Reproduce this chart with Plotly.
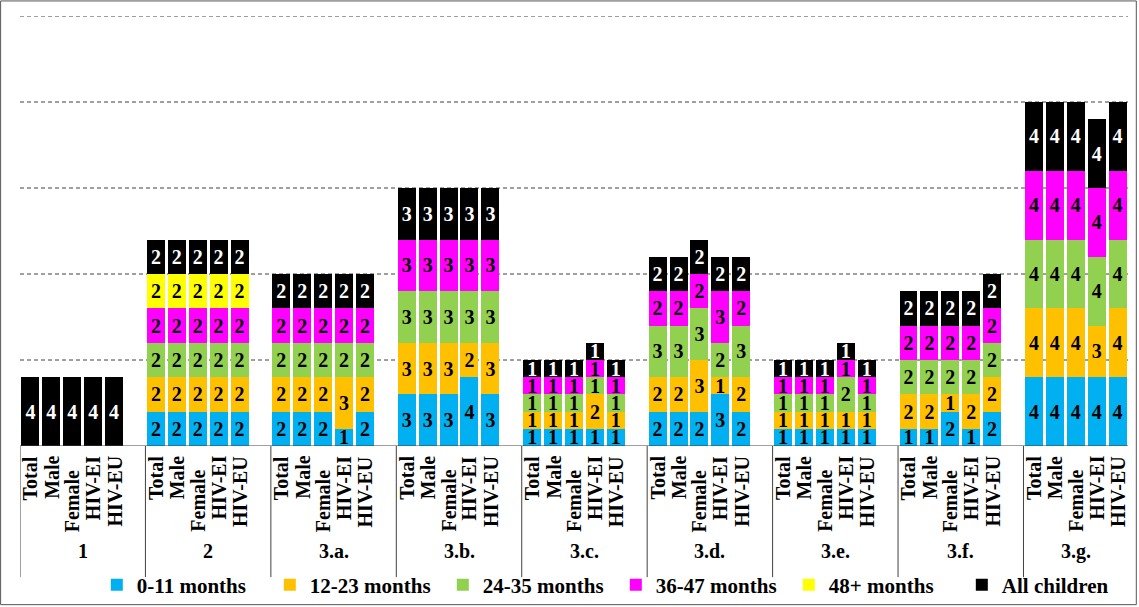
import plotly.graph_objects as go

# Groups and the five breakdowns shown inside each group
groups = ["1", "2", "3.a.", "3.b.", "3.c.", "3.d.", "3.e.", "3.f.", "3.g."]
members = ["Total", "Male", "Female", "HIV-EI", "HIV-EU"]

# Segment values, one list of five per group (None = segment absent)
age_0_11 = [[None] * 5, [2, 2, 2, 2, 2], [2, 2, 2, 1, 2], [3, 3, 3, 4, 3], [1, 1, 1, 1, 1],
            [2, 2, 2, 3, 2], [1, 1, 1, 1, 1], [1, 1, 2, 1, 2], [4, 4, 4, 4, 4]]
age_12_23 = [[None] * 5, [2, 2, 2, 2, 2], [2, 2, 2, 3, 2], [3, 3, 3, 2, 3], [1, 1, 1, 2, 1],
             [2, 2, 3, 1, 2], [1, 1, 1, 1, 1], [2, 2, 1, 2, 2], [4, 4, 4, 3, 4]]
age_24_35 = [[None] * 5, [2, 2, 2, 2, 2], [2, 2, 2, 2, 2], [3, 3, 3, 3, 3], [1, 1, 1, 1, 1],
             [3, 3, 3, 2, 3], [1, 1, 1, 2, 1], [2, 2, 2, 2, 2], [4, 4, 4, 4, 4]]
age_36_47 = [[None] * 5, [2, 2, 2, 2, 2], [2, 2, 2, 2, 2], [3, 3, 3, 3, 3], [1, 1, 1, 1, 1],
             [2, 2, 2, 3, 2], [1, 1, 1, 1, 1], [2, 2, 2, 2, 2], [4, 4, 4, 4, 4]]
age_48_plus = [[None] * 5, [2, 2, 2, 2, 2], [None] * 5, [None] * 5, [None] * 5,
               [None] * 5, [None] * 5, [None] * 5, [None] * 5]
all_children = [[4, 4, 4, 4, 4], [2, 2, 2, 2, 2], [2, 2, 2, 2, 2], [3, 3, 3, 3, 3], [1, 1, 1, 1, 1],
                [2, 2, 2, 2, 2], [1, 1, 1, 1, 1], [2, 2, 2, 2, 2], [4, 4, 4, 4, 4]]

series = [
    ("0-11 months", age_0_11, "#00B0F0", "black"),
    ("12-23 months", age_12_23, "#FFC000", "black"),
    ("24-35 months", age_24_35, "#92D050", "black"),
    ("36-47 months", age_36_47, "#FF00FF", "black"),
    ("48+ months", age_48_plus, "#FFFF00", "black"),
    ("All children", all_children, "#000000", "white"),
]

FONT = "Liberation Serif"
SLOTS_PER_GROUP = len(members) + 1  # one empty slot separates the groups


def slot(g, m):
    return g * SLOTS_PER_GROUP + m


xs = [slot(g, m) for g in range(len(groups)) for m in range(len(members))]
n_slots = slot(len(groups) - 1, len(members) - 1) + 1

fig = go.Figure()
for name, vals, color, tcolor in series:
    flat = [v for grp in vals for v in grp]
    fig.add_trace(go.Bar(
        x=xs, y=flat, name=name,
        marker=dict(color=color, line=dict(width=0)),
        text=["" if v is None else str(v) for v in flat],
        textposition="inside", insidetextanchor="middle", textangle=0,
        textfont=dict(family=FONT, size=20, color=tcolor, weight="bold"),
        width=0.86, hoverinfo="skip",
    ))

annotations = []
shapes = []
# rotated breakdown labels under each bar
for g in range(len(groups)):
    for m, lab in enumerate(members):
        annotations.append(dict(
            x=slot(g, m), y=0, xref="x", yref="paper",
            text=lab, textangle=-90, showarrow=False,
            xanchor="center", yanchor="top",
            yshift=-8 if lab != "Female" else -22,
            font=dict(family=FONT, size=20, color="black", weight="bold"),
        ))
    last = slot(g, len(members) - 1) + (1 if g < len(groups) - 1 else 0)
    annotations.append(dict(
        x=(slot(g, 0) + last) / 2, y=0, xref="x", yref="paper",
        text=groups[g], showarrow=False, xanchor="center", yanchor="middle",
        yshift=-105,
        font=dict(family=FONT, size=20, color="black", weight="bold"),
    ))
    # group divider lines
    shapes.append(dict(type="line", xref="x", yref="paper",
                       x0=slot(g, 0) - 0.5, x1=slot(g, 0) - 0.5, y0=0, y1=-0.305,
                       line=dict(color="#404040", width=1)))

# dashed grid and baseline
for yv in [5, 10, 15, 20, 25]:
    shapes.append(dict(type="line", xref="paper", yref="y", x0=0, x1=1, y0=yv, y1=yv,
                       line=dict(color="#404040", width=1, dash="4px,3px"), layer="below"))
shapes.append(dict(type="line", xref="paper", yref="y", x0=0, x1=1, y0=0, y1=0,
                   line=dict(color="#404040", width=1)))
# outer frame
shapes.append(dict(type="rect", xref="paper", yref="paper", x0=-0.0175, x1=1.0075,
                   y0=-0.369, y1=1.035, line=dict(color="#555555", width=1)))

fig.update_layout(
    barmode="stack",
    width=1139, height=607,
    margin=dict(l=20, r=11, t=16, b=161),
    plot_bgcolor="white", paper_bgcolor="white",
    xaxis=dict(range=[-0.5, n_slots - 0.5], showticklabels=False, showgrid=False,
               zeroline=False, showline=False, ticks=""),
    yaxis=dict(range=[0, 25], showticklabels=False, showgrid=False, zeroline=False,
               showline=False, ticks=""),
    uniformtext=dict(minsize=20, mode="show"),
    showlegend=True,
    legend=dict(orientation="h", xref="container", yref="container",
                x=0.085, y=0.036, xanchor="left", yanchor="middle",
                font=dict(family=FONT, size=21, color="black", weight="bold"),
                entrywidth=128, entrywidthmode="pixels", traceorder="normal",
                itemwidth=30, bgcolor="rgba(0,0,0,0)"),
    annotations=annotations,
    shapes=shapes,
)

fig.write_html("out.html")
